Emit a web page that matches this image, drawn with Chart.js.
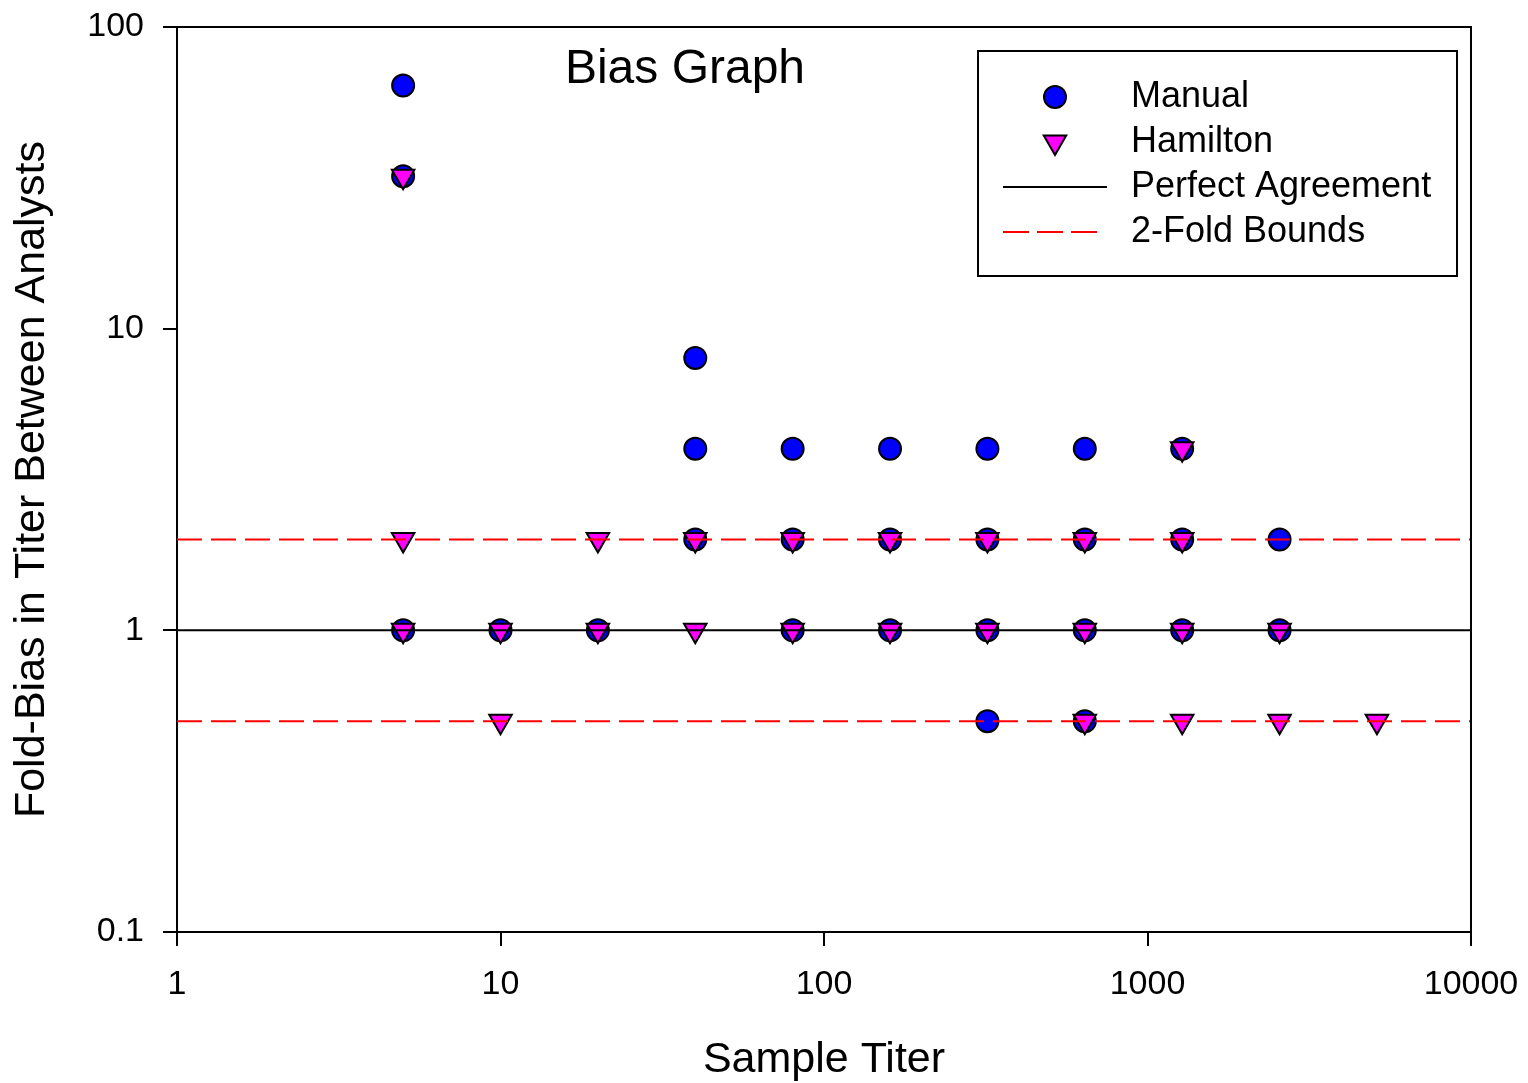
<!DOCTYPE html>
<html>
<head>
<meta charset="utf-8">
<title>Bias Graph</title>
<script src="https://cdn.jsdelivr.net/npm/chart.js@4.4.1/dist/chart.umd.min.js"></script>
<style>
  html, body { margin: 0; padding: 0; background: #fff; }
  #wrap { width: 1528px; height: 1083px; }
</style>
</head>
<body>
<div id="wrap"><canvas id="biasChart" width="1528" height="1083"></canvas></div>
<script>
// Values (sample titer vs. fold-bias)
const manualTiter = [5, 5, 5, 10, 20, 40, 40, 40, 80, 80, 80, 160, 160, 160, 320, 320, 320, 320, 640, 640, 640, 640, 1280, 1280, 1280, 2560, 2560];
const manualBias  = [64, 32, 1, 1, 1, 8, 4, 2, 4, 2, 1, 4, 2, 1, 4, 2, 1, 0.5, 4, 2, 1, 0.5, 4, 2, 1, 2, 1];
const hamiltonTiter = [5, 5, 5, 10, 10, 20, 20, 40, 40, 80, 80, 160, 160, 320, 320, 640, 640, 640, 1280, 1280, 1280, 1280, 2560, 2560, 5120];
const hamiltonBias  = [32, 2, 1, 1, 0.5, 2, 1, 2, 1, 2, 1, 2, 1, 2, 1, 2, 1, 0.5, 4, 2, 1, 0.5, 1, 0.5, 0.5];
const lineTiter   = [1, 10000];
const perfectBias = [1, 1];
const upperBound  = [2, 2];
const lowerBound  = [0.5, 0.5];
const xTicks = [1, 10, 100, 1000, 10000];
const yTicks = [0.1, 1, 10, 100];

const fontFamily = '"Liberation Sans", Arial, Helvetica, sans-serif';
const toPoints = (xs, ys) => xs.map((x, i) => ({ x: x, y: ys[i] }));

// Frame (top/right), title and boxed legend drawn on top of the chart
const decorPlugin = {
  id: 'decor',
  afterDraw(chart) {
    const ctx = chart.ctx, a = chart.chartArea;
    ctx.save();
    ctx.strokeStyle = '#000';
    ctx.lineWidth = 2;
    ctx.beginPath();
    ctx.moveTo(a.left, a.top); ctx.lineTo(a.right, a.top); ctx.lineTo(a.right, a.bottom);
    ctx.stroke();

    // title inside the plot
    ctx.fillStyle = '#000';
    ctx.font = '48px ' + fontFamily;
    ctx.textAlign = 'center';
    ctx.textBaseline = 'middle';
    ctx.fillText('Bias Graph', a.left + 508, a.top + 43);

    // legend box
    const lx = a.right - 493, ly = a.top + 24, lw = 479, lh = 225;
    ctx.fillStyle = '#fff';
    ctx.fillRect(lx, ly, lw, lh);
    ctx.strokeRect(lx, ly, lw, lh);
    const symX = lx + 77, textX = lx + 153;
    const rows = [ly + 46, ly + 91, ly + 136, ly + 181];

    // Manual: blue circle
    ctx.beginPath();
    ctx.arc(symX, rows[0], 11, 0, Math.PI * 2);
    ctx.fillStyle = '#0000ff'; ctx.fill(); ctx.stroke();
    // Hamilton: magenta down triangle
    const r = 13;
    ctx.beginPath();
    ctx.moveTo(symX, rows[1] + r);
    ctx.lineTo(symX - r * 0.866, rows[1] - r / 2);
    ctx.lineTo(symX + r * 0.866, rows[1] - r / 2);
    ctx.closePath();
    ctx.fillStyle = '#ff00ff'; ctx.fill(); ctx.stroke();
    // Perfect agreement line
    ctx.beginPath();
    ctx.moveTo(lx + 25, rows[2]); ctx.lineTo(lx + 129, rows[2]);
    ctx.stroke();
    // 2-fold bounds line
    ctx.strokeStyle = '#ff0000';
    ctx.setLineDash([26, 8]);
    ctx.beginPath();
    ctx.moveTo(lx + 25, rows[3]); ctx.lineTo(lx + 127, rows[3]);
    ctx.stroke();
    ctx.setLineDash([]);

    ctx.fillStyle = '#000';
    ctx.font = '36px ' + fontFamily;
    ctx.textAlign = 'left';
    ['Manual', 'Hamilton', 'Perfect Agreement', '2-Fold Bounds'].forEach((t, i) => {
      ctx.fillText(t, textX, rows[i]);
    });
    ctx.restore();
  }
};

const axisCommon = {
  type: 'logarithmic',
  grid: { drawOnChartArea: false, drawTicks: true, tickLength: 14, color: '#000', lineWidth: 2 },
  border: { display: true, color: '#000', width: 2 },
};

const chart = new Chart(document.getElementById('biasChart'), {
  type: 'scatter',
  data: {
    datasets: [
      { label: 'Perfect Agreement', type: 'line', data: toPoints(lineTiter, perfectBias),
        borderColor: '#000', borderWidth: 2, pointRadius: 0, order: 1 },
      { label: '2-Fold Bounds', type: 'line', data: toPoints(lineTiter, upperBound),
        borderColor: '#ff0000', borderWidth: 2, borderDash: [25, 9], pointRadius: 0, order: 1 },
      { label: '2-Fold Bounds (lower)', type: 'line', data: toPoints(lineTiter, lowerBound),
        borderColor: '#ff0000', borderWidth: 2, borderDash: [25, 9], pointRadius: 0, order: 1 },
      { label: 'Hamilton', data: toPoints(hamiltonTiter, hamiltonBias),
        pointStyle: 'triangle', rotation: 180, pointRadius: 13,
        backgroundColor: '#ff00ff', borderColor: '#000', borderWidth: 2, order: 2 },
      { label: 'Manual', data: toPoints(manualTiter, manualBias),
        pointStyle: 'circle', pointRadius: 11,
        backgroundColor: '#0000ff', borderColor: '#000', borderWidth: 2, order: 3 },
    ]
  },
  options: {
    responsive: false,
    animation: false,
    devicePixelRatio: 1,
    layout: { padding: { top: 27, right: 57, left: 0, bottom: 0 } },
    plugins: { legend: { display: false }, tooltip: { enabled: false } },
    scales: {
      x: Object.assign({}, axisCommon, {
        min: 1, max: 10000,
        afterBuildTicks: (s) => { s.ticks = xTicks.map(v => ({ value: v })); },
        // fixed axis height, and no extra room for label overhang
        afterFit: (s) => { s.height = 151; s.paddingLeft = 0; s.paddingRight = 0; },
        ticks: { color: '#000', font: { family: fontFamily, size: 34 }, padding: 18,
                 maxRotation: 0, autoSkip: false, callback: (v) => String(v) },
        title: { display: true, text: 'Sample Titer', color: '#000',
                 font: { family: fontFamily, size: 43 }, padding: { top: 0, bottom: -3 } }
      }),
      y: Object.assign({}, axisCommon, {
        min: 0.1, max: 100,
        afterBuildTicks: (s) => { s.ticks = yTicks.map(v => ({ value: v })); },
        afterFit: (s) => { s.width = 177; s.paddingTop = 0; s.paddingBottom = 0; },
        ticks: { color: '#000', font: { family: fontFamily, size: 34 }, padding: 19,
                 autoSkip: false, callback: (v) => String(v) },
        title: { display: true, text: 'Fold-Bias in Titer Between Analysts', color: '#000',
                 font: { family: fontFamily, size: 43 }, padding: { top: 6, bottom: 0 } }
      })
    }
  },
  plugins: [decorPlugin]
});
</script>
</body>
</html>
